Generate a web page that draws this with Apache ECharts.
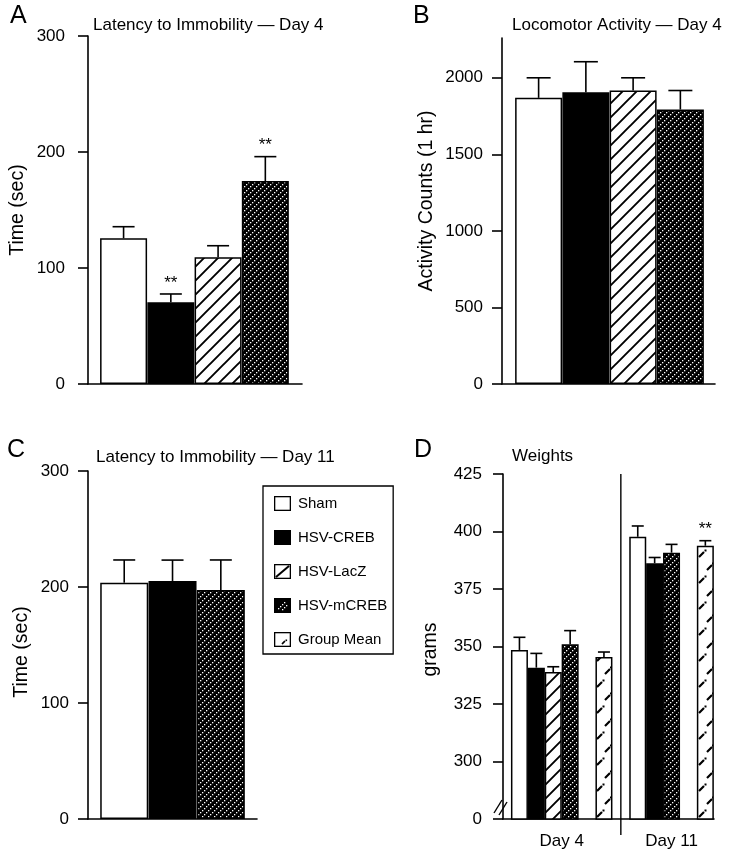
<!DOCTYPE html>
<html>
<head>
<meta charset="utf-8">
<script src="https://cdn.jsdelivr.net/npm/echarts@6/dist/echarts.min.js"></script>
<style>
html, body { margin: 0; padding: 0; background: #ffffff; }
#chart { width: 730px; height: 854px; }
</style>
</head>
<body>
<div id="chart"></div>
<script>
// ---------------- DATA ----------------
const groupNames = ['Sham', 'HSV-CREB', 'HSV-LacZ', 'HSV-mCREB', 'Group Mean'];

const panelLetters = ['A', 'B', 'C', 'D'];
const panelTitles = ['Latency to Immobility \u2014 Day 4', 'Locomotor Activity \u2014 Day 4', 'Latency to Immobility \u2014 Day 11', 'Weights'];
const axisNames = ['Time (sec)', 'Activity Counts (1 hr)', 'Time (sec)', 'grams'];

// Panel A: latency to immobility, day 4
const aGroups = ['Sham', 'HSV-CREB', 'HSV-LacZ', 'HSV-mCREB'];
const aMeans = [125.6, 70.4, 109.2, 175];
const aSems = [10, 7.2, 10, 21];
const aSig = ['', '**', '', '**'];
const aTicks = [0, 100, 200, 300];

// Panel B: locomotor activity, day 4
const bGroups = ['Sham', 'HSV-CREB', 'HSV-LacZ', 'HSV-mCREB'];
const bMeans = [1869, 1906, 1917, 1793];
const bSems = [131, 199, 83, 124];
const bSig = ['', '', '', ''];
const bTicks = [0, 500, 1000, 1500, 2000];

// Panel C: latency to immobility, day 11
const cGroups = ['Sham', 'HSV-CREB', 'HSV-mCREB'];
const cMeans = [203.7, 205.2, 197.4];
const cSems = [19.6, 18, 25.9];
const cSig = ['', '', ''];
const cTicks = [0, 100, 200, 300];

// Panel D: weights
const dDays = ['Day 4', 'Day 11'];
const dDay4Groups = ['Sham', 'HSV-CREB', 'HSV-LacZ', 'HSV-mCREB', 'Group Mean'];
const dDay4Means = [348.5, 340.8, 338.9, 351, 345.4];
const dDay4Sems = [5.5, 6.2, 2.3, 5.9, 2.2];
const dDay4Sig = ['', '', '', '', ''];
const dDay11Groups = ['Sham', 'HSV-CREB', 'HSV-mCREB', 'Group Mean'];
const dDay11Means = [397.7, 386.2, 390.8, 393.8];
const dDay11Sems = [4.7, 2.5, 3.6, 2.2];
const dDay11Sig = ['', '', '', '**'];
const dTicks = [300, 325, 350, 375, 400, 425];
const dBreakLabel = '0';

// ---------------- STYLE HELPERS ----------------
const FONT = '"Liberation Sans", Arial, Helvetica, sans-serif';

function canvasOf(w, h, draw) {
  const c = document.createElement('canvas');
  c.width = w; c.height = h;
  draw(c.getContext('2d'), w, h);
  return c;
}

const patLacZ = canvasOf(14, 14, (ctx, w, h) => {
  ctx.fillStyle = '#fff'; ctx.fillRect(0, 0, w, h);
  ctx.strokeStyle = '#000'; ctx.lineWidth = 1.9;
  ctx.beginPath();
  ctx.moveTo(-1, h + 1); ctx.lineTo(w + 1, -1);
  ctx.moveTo(-3, 3); ctx.lineTo(3, -3);
  ctx.moveTo(w - 3, h + 3); ctx.lineTo(w + 3, h - 3);
  ctx.stroke();
});

const patMCREB = canvasOf(6, 6, (ctx, w, h) => {
  ctx.fillStyle = '#000'; ctx.fillRect(0, 0, w, h);
  ctx.fillStyle = '#fff';
  ctx.fillRect(0, 4, 1.3, 1.3);
  ctx.fillRect(2, 2, 1.3, 1.3);
  ctx.fillRect(4, 0, 1.3, 1.3);
});

const patGM = canvasOf(17, 26, (ctx, w, h) => {
  ctx.fillStyle = '#fff'; ctx.fillRect(0, 0, w, h);
  ctx.strokeStyle = '#000'; ctx.lineWidth = 2.2;
  ctx.beginPath();
  ctx.moveTo(2, 11); ctx.lineTo(7, 6);
  ctx.moveTo(10, 24); ctx.lineTo(15, 19);
  ctx.stroke();
  ctx.fillStyle = '#000';
  ctx.fillRect(7.5, 3.5, 2, 2);
  ctx.fillRect(15, 16.5, 2, 2);
});

const fills = {
  'Sham': '#ffffff',
  'HSV-CREB': '#000000',
  'HSV-LacZ': { image: patLacZ, repeat: 'repeat' },
  'HSV-mCREB': { image: patMCREB, repeat: 'repeat' },
  'Group Mean': { image: patGM, repeat: 'repeat' }
};

function iconURL(inner) {
  return 'image://' + canvasOf(34, 30, (ctx) => {
    ctx.scale(2, 2);
    ctx.fillStyle = '#fff'; ctx.fillRect(0, 0, 17, 15);
    inner(ctx);
    ctx.strokeStyle = '#000'; ctx.lineWidth = 1.3;
    ctx.strokeRect(0.65, 0.65, 15.7, 13.7);
  }).toDataURL();
}
const legendIcons = {
  'Sham': iconURL(() => {}),
  'HSV-CREB': iconURL((ctx) => { ctx.fillStyle = '#000'; ctx.fillRect(0, 0, 17, 15); }),
  'HSV-LacZ': iconURL((ctx) => {
    ctx.strokeStyle = '#000'; ctx.lineWidth = 2;
    ctx.beginPath(); ctx.moveTo(2, 13); ctx.lineTo(15, 2); ctx.stroke();
  }),
  'HSV-mCREB': iconURL((ctx) => {
    ctx.fillStyle = '#000'; ctx.fillRect(0, 0, 17, 15);
    ctx.fillStyle = '#fff';
    [[4, 10], [6, 8], [8, 6], [10, 4], [8, 11], [10, 9], [12, 7]].forEach(p => ctx.fillRect(p[0], p[1], 1.3, 1.3));
  }),
  'Group Mean': iconURL((ctx) => {
    ctx.strokeStyle = '#000'; ctx.lineWidth = 1.6;
    ctx.beginPath(); ctx.moveTo(8, 12); ctx.lineTo(11, 9); ctx.stroke();
    ctx.fillStyle = '#000'; ctx.fillRect(11.5, 7.5, 1.6, 1.6);
  })
};

// ---------------- POINTS ----------------
function simplePoints(groups, means, sems, sig) {
  return groups.map((g, i) => ({ group: g, x: i, mean: means[i], sem: sems[i], sig: sig[i] }));
}

// Panel D slot layout: Group Mean separated by one empty slot; days separated by one slot
const dPoints = [];
const dDayCenters = [];
const dDayRanges = [];
(function () {
  const days = [
    [dDay4Groups, dDay4Means, dDay4Sems, dDay4Sig],
    [dDay11Groups, dDay11Means, dDay11Sems, dDay11Sig]
  ];
  let slot = 0;
  days.forEach(([groups, means, sems, sig]) => {
    const start = slot;
    groups.forEach((g, i) => {
      if (g === 'Group Mean') slot += 1;
      dPoints.push({ group: g, x: slot, mean: means[i], sem: sems[i], sig: sig[i] });
      slot += 1;
    });
    dDayRanges.push([start, slot - 1]);
    dDayCenters.push((start + slot - 1) / 2);
    slot += 1;
  });
})();
const dDividerX = (dDayRanges[0][1] + dDayRanges[1][0]) / 2;
const dAxisMin = dTicks[0] - (dTicks[1] - dTicks[0]);

// ---------------- PANEL LAYOUT ----------------
const panels = [
  { grid: { left: 88, top: 36, width: 214, height: 348 }, xRange: [-0.753, 3.776], barWidth: 47, cap: 11,
    yMin: 0, yMax: 300, ticks: aTicks, labelMargin: 23, nameGap: 60, namePad: [0, 0, 0, 0],
    points: simplePoints(aGroups, aMeans, aSems, aSig) },
  { grid: { left: 502, top: 38, width: 213, height: 346 }, xRange: [-0.775, 3.733], barWidth: 47, cap: 12,
    yMin: 0, yMax: 2260, ticks: bTicks, labelMargin: 19, nameGap: 65, namePad: [0, 0, 0, 20],
    points: simplePoints(bGroups, bMeans, bSems, bSig) },
  { grid: { left: 88, top: 471, width: 169, height: 348 }, xRange: [-0.75, 2.749], barWidth: 48, cap: 11,
    yMin: 0, yMax: 300, ticks: cTicks, labelMargin: 19, nameGap: 56, namePad: [0, 14, 0, 0],
    points: simplePoints(cGroups, cMeans, cSems, cSig) },
  { grid: { left: 503, top: 474, width: 211, height: 345 }, xRange: [-0.973, 11.512], barWidth: 17, cap: 6,
    yMin: dAxisMin, yMax: dTicks[dTicks.length - 1], ticks: [dAxisMin].concat(dTicks), labelMargin: 21, nameGap: 62, namePad: [0, 6, 0, 0],
    points: dPoints }
];

const titleLayout = [
  { letter: [10, 3.5], title: [93, 16.5] },
  { letter: [413, 3.5], title: [512, 16.5] },
  { letter: [7, 437.5], title: [96, 449] },
  { letter: [414, 437.5], title: [512, 448] }
];

// ---------------- OPTION ----------------
const axisLineStyle = { color: '#000', width: 1.6 };
const grids = [], xAxes = [], yAxes = [], series = [], titles = [];

panels.forEach((p, k) => {
  grids.push(Object.assign({ containLabel: false }, p.grid));
  const isD = k === 3;
  xAxes.push({
    type: 'value', gridIndex: k, min: p.xRange[0], max: p.xRange[1],
    axisLine: { show: true, onZero: false, lineStyle: axisLineStyle },
    axisTick: { show: false },
    splitLine: { show: false },
    axisLabel: isD ? {
      show: true, customValues: dDayCenters, margin: 14, fontSize: 17, color: '#000', fontFamily: FONT,
      formatter: (v) => dDays[dDayCenters.indexOf(v)] || ''
    } : { show: false }
  });
  yAxes.push({
    type: 'value', gridIndex: k, min: p.yMin, max: p.yMax,
    axisLine: { show: true, onZero: false, lineStyle: axisLineStyle },
    axisTick: { show: true, customValues: p.ticks, length: 10, inside: false, lineStyle: axisLineStyle },
    axisLabel: {
      customValues: p.ticks, margin: p.labelMargin, fontSize: 17, color: '#000', fontFamily: FONT,
      formatter: (v) => (isD && v === dAxisMin) ? dBreakLabel : String(v)
    },
    splitLine: { show: false },
    name: axisNames[k], nameLocation: 'middle', nameGap: p.nameGap,
    nameTextStyle: { fontSize: 19.5, color: '#000', fontFamily: FONT, padding: p.namePad }
  });

  groupNames.forEach((g) => {
    const pts = p.points.filter(pt => pt.group === g);
    if (!pts.length) return;
    series.push({
      type: 'bar', name: g, xAxisIndex: k, yAxisIndex: k,
      barWidth: p.barWidth, barGap: '-100%',
      data: pts.map(pt => [pt.x, pt.mean]),
      itemStyle: { color: fills[g], borderColor: '#000', borderWidth: 1.5 },
      emphasis: { disabled: true }, silent: true, animation: false
    });
  });

  series.push({
    type: 'custom', name: 'err' + k, xAxisIndex: k, yAxisIndex: k, z: 5, silent: true, animation: false,
    encode: { x: 0, y: 1 },
    data: p.points.map(pt => [pt.x, pt.mean + pt.sem]),
    renderItem: (params, api) => {
      const pt = p.points[params.dataIndex];
      const base = api.coord([pt.x, pt.mean]);
      const top = api.coord([pt.x, pt.mean + pt.sem]);
      const ls = { stroke: '#000', lineWidth: 1.6 };
      const ch = [
        { type: 'line', shape: { x1: base[0], y1: base[1], x2: top[0], y2: top[1] }, style: ls },
        { type: 'line', shape: { x1: top[0] - p.cap, y1: top[1], x2: top[0] + p.cap, y2: top[1] }, style: ls }
      ];
      if (pt.sig) {
        ch.push({ type: 'text', x: top[0], y: top[1] - 11,
          style: { text: pt.sig, fill: '#000', fontSize: 17, fontFamily: FONT, align: 'center', verticalAlign: 'middle' } });
      }
      return { type: 'group', children: ch };
    }
  });

  titles.push({ text: panelLetters[k], left: titleLayout[k].letter[0], top: titleLayout[k].letter[1], padding: 0,
    textStyle: { fontSize: 25, fontWeight: 'normal', color: '#000', fontFamily: FONT } });
  titles.push({ text: panelTitles[k], left: titleLayout[k].title[0], top: titleLayout[k].title[1], padding: 0,
    textStyle: { fontSize: 17, fontWeight: 'normal', color: '#000', fontFamily: FONT } });
});

// Panel D: day divider and axis break marks
series.push({
  type: 'custom', name: 'dDecor', xAxisIndex: 3, yAxisIndex: 3, z: 6, silent: true, animation: false,
  encode: { x: 0, y: 1 },
  data: [[dDividerX, panels[3].yMax]],
  renderItem: (params, api) => {
    const top = api.coord([dDividerX, panels[3].yMax]);
    const bot = api.coord([dDividerX, dAxisMin]);
    const corner = api.coord([panels[3].xRange[0], dAxisMin]);
    const ls = { stroke: '#000', lineWidth: 1.4 };
    return { type: 'group', children: [
      { type: 'line', shape: { x1: top[0], y1: top[1], x2: bot[0], y2: bot[1] + 16 }, style: ls },
      { type: 'line', shape: { x1: corner[0] - 9, y1: corner[1] - 6, x2: corner[0] - 1, y2: corner[1] - 19 }, style: ls },
      { type: 'line', shape: { x1: corner[0] - 4, y1: corner[1] - 4, x2: corner[0] + 4, y2: corner[1] - 17 }, style: ls }
    ] };
  }
});

const option = {
  backgroundColor: '#ffffff',
  animation: false,
  textStyle: { fontFamily: FONT, color: '#000' },
  title: titles,
  legend: {
    orient: 'vertical', left: 263, top: 486,
    padding: [10, 6, 7, 11], itemWidth: 17, itemHeight: 15, itemGap: 19,
    borderColor: '#000', borderWidth: 1.3, backgroundColor: '#fff',
    selectedMode: false,
    textStyle: { fontSize: 15, color: '#000', fontFamily: FONT, padding: [0, 0, 0, 2] },
    data: groupNames.map(n => ({ name: n, icon: legendIcons[n] }))
  },
  grid: grids,
  xAxis: xAxes,
  yAxis: yAxes,
  series: series
};

const chart = echarts.init(document.getElementById('chart'), null, { renderer: 'canvas' });
chart.setOption(option);
</script>
</body>
</html>
